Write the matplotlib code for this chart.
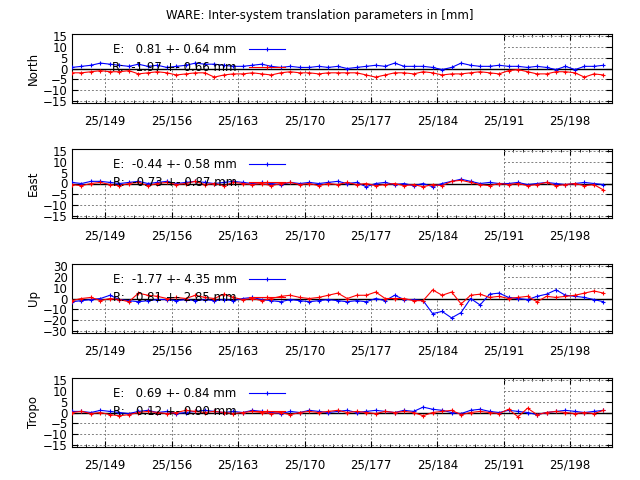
import numpy as np
import matplotlib.pyplot as plt

days = np.arange(146, 203) - 0.5   # day of year 2025, 57 epochs
tick_days = [149, 156, 163, 170, 177, 184, 191, 198]
tick_labels = ["25/149", "25/156", "25/163", "25/170", "25/177", "25/184", "25/191", "25/198"]

north_e = [0.5, 1.0, 1.5, 2.5, 2.0, 1.5, 1.0, 2.0, 1.0, 1.5, 0.5, 1.0, 1.5, 2.5, 2.0, 2.0, 1.5, 1.0, 1.0, 1.5, 2.0, 1.0, 0.5, 1.0, 0.5, 0.5, 1.0, 0.5, 1.0, 0.0, 0.5, 1.0, 1.5, 1.0, 2.5, 1.0,
           1.0, 1.0, 0.5, -0.5, 0.5, 2.5, 1.5, 1.0, 1.0, 1.5, 1.0, 1.0, 0.5, 1.0, 0.5, -0.5, 1.0, -0.5, 1.0, 1.0, 1.5]
north_r = [-2.0, -2.0, -1.5, -1.0, -1.5, -1.5, -1.0, -2.5, -2.0, -1.5, -2.0, -3.0, -2.5, -2.0, -2.0, -4.0, -3.0, -2.5, -2.5, -2.0, -2.5, -3.0, -2.0, -1.5, -2.0, -2.0,
           -2.5, -2.0, -2.0, -2.0, -2.0, -3.0, -4.0, -3.0, -2.0, -2.0, -2.5, -1.5, -2.0, -3.0, -2.5, -2.5, -2.0, -1.5, -2.0, -2.5, -1.0, -0.5, -1.5, -2.5, -2.5, -1.5, -1.5, -2.0, -4.0, -2.5, -3.0]
east_e = [0.5, 0.0, 1.0, 1.0, 0.5, 0.0, 0.5, 1.0, 0.0, 0.5, 1.0, 0.0, 0.5, 1.0, 0.5, 0.0, 0.5, 1.0, 0.5, 0.0, 0.5, 0.0, -0.5, 0.5, 0.0, 0.5, 0.0, 0.5, 1.0, 0.0, 0.5,
          -1.5, 0.0, 0.5, -0.5, 0.0, -1.0, 0.0, -1.5, 0.0, 1.0, 2.0, 1.0, 0.0, 0.5, 0.0, 0.0, 0.5, -0.5, 0.0, 0.5, 0.0, -0.5, 0.0, 0.5, 0.0, -0.5]
east_r = [-0.5, -1.0, 0.0, 0.5, -0.5, -1.0, 0.0, 0.5, -1.0, 0.0, 0.5, -0.5, 0.0, 1.0, -0.5, 0.0, -1.0, 0.5, 0.0, -0.5, 0.0, -1.0, 0.0, 0.5, -0.5, 0.0, -1.0, 0.0, -0.5, 0.5,
          -0.5, 0.0, -1.0, -0.5, 0.0, -1.0, -0.5, -1.5, -0.5, -1.0, 1.0, 1.5, 0.5, -0.5, -1.0, 0.0, -0.5, 0.0, -1.0, -0.5, 0.5, -1.0, -0.5, 0.0, -1.0, -0.5, -3.0]
up_e = [-3.0, -2.0, -1.0, 0.0, 3.0, -1.0, -2.0, -3.0, -2.0, -1.0, -1.0, -2.0, -1.0, -2.0, -1.0, -2.0, -1.0, -2.0, 0.0, 1.0, -1.0, -2.0, -3.0, -1.0, -2.0, -3.0, -2.0, -1.0, -2.0, -3.0,
        -2.0, -3.0, 0.0, -2.0, 3.0, -1.0, -1.0, -2.0, -14.0, -12.0, -18.0, -13.0, 0.0, -6.0, 4.0, 5.0, 1.0, 0.0, -1.0, 2.0, 4.0, 8.0, 3.0, 2.0, 1.0, -1.0, -3.0]
up_r = [-2.0, 0.0, 1.0, -2.0, 0.0, -1.0, -3.0, 5.0, 3.0, 2.0, 0.0, 1.0, 0.0, 3.0, 1.0, 0.0, 4.0, 1.0, -1.0, 0.0, -2.0, 0.0, 2.0, 3.0, 1.0, 0.0, 1.0, 3.0, 5.0, 0.0,
        3.0, 3.0, 6.0, 0.0, 0.0, 0.0, -2.0, -2.0, 8.0, 3.0, 6.0, -5.0, 3.0, 4.0, 1.0, 2.0, 0.0, 1.0, 2.0, -3.0, 2.0, 1.0, 2.0, 3.0, 5.0, 7.0, 5.0]
tropo_e = [0.5, 0.5, 0.0, 1.0, 0.5, 0.0, -0.5, 0.5, 1.0, 0.0, 0.5, -0.5, 0.0, 0.5, 1.0, 0.5, 0.0, 0.5, 0.0, 1.0, 0.5, 0.0, -0.5, 0.5, 0.0, 1.0, 0.5, 0.0, 0.5, 1.0,
           0.0, 0.5, 1.0, 0.5, 0.0, 1.0, 0.5, 2.5, 1.5, 1.0, 0.0, -0.5, 1.0, 1.5, 0.5, 0.0, 1.0, 0.5, 0.0, -1.0, 0.0, 0.5, 1.0, 0.5, 0.0, 0.5, 1.0]
tropo_r = [0.0, 0.5, -0.5, 0.0, -1.0, -1.5, -1.0, 0.0, 0.5, 0.0, -0.5, 0.0, 1.0, 0.5, 0.0, 0.5, 0.0, -0.5, 0.0, 0.5, 0.0, -0.5, 0.0, -1.0, 0.0, 0.5, 0.0, 0.5, 1.0, 0.0,
           0.5, 0.0, -0.5, 0.5, 0.0, 0.5, 0.0, -1.5, 0.0, 0.5, 1.0, -1.0, 0.0, 0.5, 0.0, -0.5, 1.5, -2.0, 2.0, -1.0, 0.0, 0.5, 0.0, -0.5, 0.0, -0.5, 1.0]

panels = [
    ("North", north_e, north_r, "E:   0.81 +- 0.64 mm", "R:  -1.97 +- 0.66 mm", 16, [-15, -10, -5, 0, 5, 10, 15]),
    ("East", east_e, east_r, "E:  -0.44 +- 0.58 mm", "R:  -0.73 +- 0.87 mm", 16, [-15, -10, -5, 0, 5, 10, 15]),
    ("Up", up_e, up_r, "E:  -1.77 +- 4.35 mm", "R:   0.81 +- 2.85 mm", 32, [-30, -20, -10, 0, 10, 20, 30]),
    ("Tropo", tropo_e, tropo_r, "E:   0.69 +- 0.84 mm", "R:   0.12 +- 0.90 mm", 16, [-15, -10, -5, 0, 5, 10, 15]),
]

W, H = 640, 480
FS = 8.5
bottoms = [103, 218, 333, 447]
fig = plt.figure(figsize=(6.4, 4.8), dpi=100)
fig.text(0.5, 1 - 16 / H, "WARE: Inter-system translation parameters in [mm]",
         ha="center", va="center", fontsize=FS)

for (name, e, r, le, lr, lim, yt), b in zip(panels, bottoms):
    ax = fig.add_axes([72 / W, 1 - b / H, 540 / W, 69 / H])
    ax.set_xlim(145.5, 202.4)
    ax.set_ylim(-lim, lim)
    ax.set_yticks(yt)
    ax.set_xticks(tick_days)
    ax.set_xticklabels(tick_labels)
    ax.set_xticks(np.arange(146, 203), minor=True)
    ax.tick_params(direction="in", labelsize=FS, length=4, top=True, right=True, which="major", pad=8)
    ax.tick_params(axis="x", which="minor", direction="in", length=2, top=True)
    ax.tick_params(axis="y", pad=3)
    ax.grid(True, color="gray", linestyle=(0, (2, 2)), linewidth=0.7)
    # opaque key box hides the grid in the upper left
    ax.add_patch(plt.Rectangle((0, 0.5), 0.8, 0.5, transform=ax.transAxes,
                               facecolor="white", edgecolor="none", zorder=2))
    ax.axhline(0, color="black", linewidth=1, zorder=3)
    ax.plot(days, e, color="blue", marker="+", markersize=2.5, markeredgewidth=0.8, linewidth=0.8, zorder=4)
    ax.plot(days, r, color="red", marker="+", markersize=2.5, markeredgewidth=0.8, linewidth=0.8, zorder=4)
    for yy, txt, col in [(0.78, le, "blue"), (0.52, lr, "red")]:
        ax.text(0.305, yy, txt, transform=ax.transAxes, ha="right", va="center",
                fontsize=FS, zorder=5)
        ax.plot([0.327, 0.395], [yy, yy], transform=ax.transAxes, color=col,
                linewidth=0.8, zorder=5)
        ax.plot([0.361], [yy], transform=ax.transAxes, color=col, marker="+",
                markersize=2.5, markeredgewidth=0.8, zorder=5)
    ax.set_ylabel(name, fontsize=FS, labelpad=2)

fig.savefig("out.png", dpi=100)
